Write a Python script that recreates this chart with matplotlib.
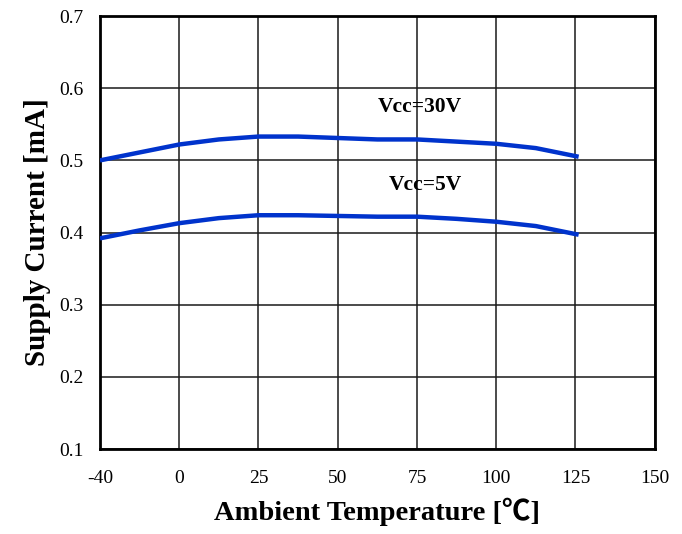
import numpy as np
import matplotlib
matplotlib.use('Agg')
import matplotlib.pyplot as plt

# tick temperatures (evenly spaced on the chart even though -40..0 is wider)
temp_ticks = [-40, 0, 25, 50, 75, 100, 125, 150]
current_ticks = [0.1, 0.2, 0.3, 0.4, 0.5, 0.6, 0.7]

temp = [-40, -20, 0, 12.5, 25, 37.5, 50, 62.5, 75, 87.5, 100, 112.5, 126]
icc_30v = [0.500, 0.511, 0.522, 0.529, 0.533, 0.533, 0.531, 0.529, 0.529,
           0.526, 0.523, 0.517, 0.505]
icc_5v = [0.392, 0.403, 0.413, 0.420, 0.424, 0.424, 0.423, 0.422, 0.422,
          0.419, 0.415, 0.409, 0.397]

LINE_BLUE = '#0033CC'

plt.rcParams.update({
    'font.family': ['Liberation Serif', 'Noto Sans CJK JP', 'DejaVu Sans'],
    'font.size': 14,
})

tick_pos = np.arange(len(temp_ticks))


def fwd(t):
    return np.interp(t, temp_ticks, tick_pos)


def inv(p):
    return np.interp(p, tick_pos, temp_ticks)


fig = plt.figure(figsize=(6.82, 5.34), dpi=100)
ax = fig.add_axes([0.1466, 0.159, 0.8134, 0.811])
ax.set_xscale('function', functions=(fwd, inv))

ax.plot(temp, icc_30v, color=LINE_BLUE, lw=3.2, solid_capstyle='butt', zorder=3)
ax.plot(temp, icc_5v, color=LINE_BLUE, lw=3.2, solid_capstyle='butt', zorder=3)

ax.text(76, 0.574, 'Vcc=30V', fontsize=15.5, fontweight='bold',
        ha='center', va='center')
ax.text(77.5, 0.466, 'Vcc=5V', fontsize=15.5, fontweight='bold',
        ha='center', va='center')

ax.set_xlim(-40, 150)
ax.set_ylim(0.1, 0.7)
ax.set_xticks(temp_ticks)
ax.set_xticklabels([str(t) for t in temp_ticks])
ax.set_yticks(current_ticks)
ax.set_yticklabels([f'{v:.1f}' for v in current_ticks])
ax.tick_params(axis='x', length=0, pad=15, labelsize=14)
ax.tick_params(axis='y', length=0, pad=12, labelsize=14)

ax.grid(True, color='#1a1a1a', lw=1.1)
ax.set_axisbelow(True)
for s in ax.spines.values():
    s.set_linewidth(2.0)
    s.set_color('black')

ax.set_xlabel('Ambient Temperature [℃]', fontsize=20.5, fontweight='bold',
              labelpad=8)
ax.set_ylabel('Supply Current [mA]', fontsize=21, fontweight='bold',
              labelpad=6)

fig.savefig('out.png', dpi=100)
